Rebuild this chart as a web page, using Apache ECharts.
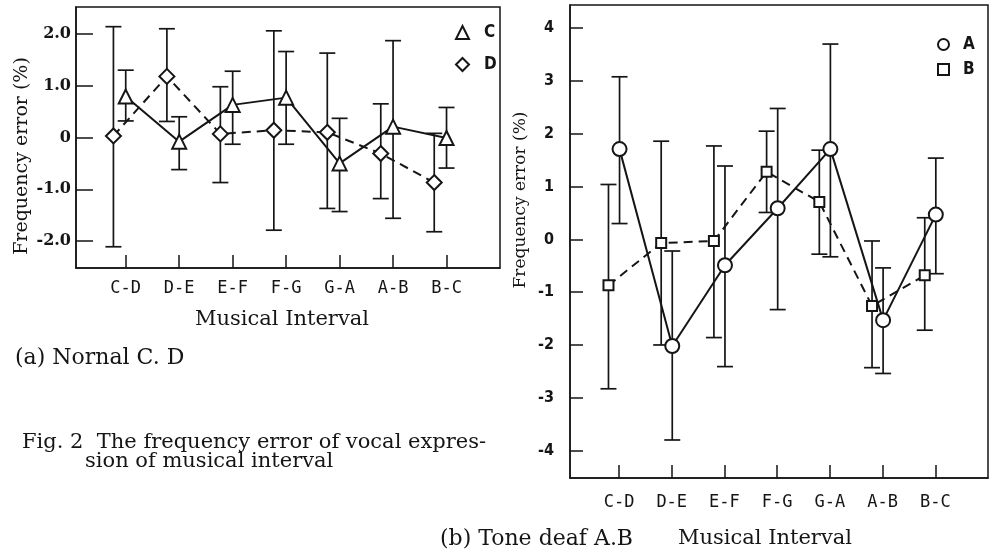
<!DOCTYPE html>
<html>
<head>
<meta charset="utf-8">
<script src="https://cdn.jsdelivr.net/npm/echarts@6/dist/echarts.min.js"></script>
<style>
  html, body { margin: 0; padding: 0; background: #fff; }
  #chart { width: 990px; height: 555px; }
</style>
</head>
<body>
<div id="chart"></div>
<script>
const intervals = ['C-D', 'D-E', 'E-F', 'F-G', 'G-A', 'A-B', 'B-C'];

// (a) normal subjects C and D
const meanC = [0.79, -0.08, 0.63, 0.77, -0.50, 0.21, -0.01];
const lowC = [0.32, -0.62, -0.13, -0.13, -1.43, -1.56, -0.59];
const highC = [1.30, 0.40, 1.28, 1.66, 0.37, 1.87, 0.58];
const meanD = [0.03, 1.18, 0.07, 0.14, 0.10, -0.31, -0.87];
const lowD = [-2.11, 0.31, -0.87, -1.79, -1.37, -1.18, -1.82];
const highD = [2.14, 2.10, 0.98, 2.06, 1.63, 0.65, 0.08];

// (b) tone deaf subjects A and B
const meanA = [1.71, -2.02, -0.49, 0.59, 1.71, -1.53, 0.47];
const lowA = [0.30, -3.80, -2.41, -1.33, -0.33, -2.54, -0.65];
const highA = [3.08, -0.22, 1.39, 2.48, 3.70, -0.54, 1.54];
const meanB = [-0.87, -0.07, -0.03, 1.28, 0.71, -1.26, -0.68];
const lowB = [-2.83, -2.00, -1.86, 0.51, -0.28, -2.43, -1.72];
const highB = [1.04, 1.86, 1.77, 2.05, 1.69, -0.03, 0.41];

const ticksA = [-2, -1, 0, 1, 2];
const ticksB = [-4, -3, -2, -1, 0, 1, 2, 3, 4];

const ink = '#151515';
const serif = '"DejaVu Serif", "Liberation Serif", serif';
const mono = '"DejaVu Sans Mono", "Liberation Mono", monospace';
const narrow = '"DejaVu Sans Condensed", "Liberation Sans Narrow", sans-serif';

// category i sits at x = i + 1, the second subject is drawn a bit to the left
const catPos = intervals.map((c, i) => i + 1);

function points(mean, shift) {
  return mean.map((v, i) => [catPos[i] + shift, v]);
}
function bars(low, high, shift) {
  return low.map((v, i) => [catPos[i] + shift, v, high[i]]);
}

function errorBars(axis, data) {
  return {
    type: 'custom',
    xAxisIndex: axis,
    yAxisIndex: axis,
    z: 1,
    silent: true,
    data: data,
    encode: { x: 0, y: [1, 2] },
    renderItem: function (params, api) {
      const x = api.value(0);
      const lo = api.coord([x, api.value(1)]);
      const hi = api.coord([x, api.value(2)]);
      const w = 8;
      const st = { stroke: ink, lineWidth: 1.7 };
      return {
        type: 'group',
        children: [
          { type: 'line', shape: { x1: lo[0], y1: lo[1], x2: hi[0], y2: hi[1] }, style: st },
          { type: 'line', shape: { x1: lo[0] - w, y1: lo[1], x2: lo[0] + w, y2: lo[1] }, style: st },
          { type: 'line', shape: { x1: hi[0] - w, y1: hi[1], x2: hi[0] + w, y2: hi[1] }, style: st }
        ]
      };
    }
  };
}

function meanLine(axis, name, data, symbol, size, dashed) {
  return {
    type: 'line',
    name: name,
    xAxisIndex: axis,
    yAxisIndex: axis,
    z: 3,
    data: data,
    symbol: symbol,
    symbolSize: size,
    showAllSymbol: true,
    lineStyle: { color: ink, width: 2, type: dashed ? [9, 6] : 'solid' },
    itemStyle: { color: '#fff', borderColor: ink, borderWidth: 2 },
    emphasis: { disabled: true }
  };
}

function xAxis(grid) {
  return {
    type: 'value',
    gridIndex: grid,
    min: 0.07,
    max: 8,
    axisLine: { show: true, onZero: false, lineStyle: { color: ink, width: 1.5 } },
    splitLine: { show: false },
    axisTick: { show: true, inside: true, length: 13, customValues: catPos,
      lineStyle: { color: ink, width: 1.5 } },
    axisLabel: {
      customValues: catPos,
      formatter: v => intervals[Math.round(v) - 1] || '',
      color: ink, fontFamily: mono, fontSize: 17,
      margin: grid === 0 ? 12 : 16
    }
  };
}

function yAxis(grid, ticks, min, max) {
  return {
    type: 'value',
    gridIndex: grid,
    min: min,
    max: max,
    axisLine: { show: true, onZero: false, lineStyle: { color: ink, width: 1.5 } },
    splitLine: { show: false },
    axisTick: { show: true, inside: true, length: grid === 0 ? 17 : 13, customValues: ticks,
      lineStyle: { color: ink, width: 1.5 } },
    axisLabel: {
      customValues: ticks,
      formatter: v => grid === 0 ? (v === 0 ? '0' : v.toFixed(1)) : String(v),
      color: ink,
      fontFamily: grid === 0 ? serif : narrow,
      fontWeight: 'bold',
      fontSize: 16,
      margin: grid === 0 ? 5 : 16
    }
  };
}

const chart = echarts.init(document.getElementById('chart'));

chart.setOption({
  backgroundColor: '#fff',
  animation: false,
  grid: [
    { left: 76, top: 7, width: 424, height: 261, show: true, borderColor: ink, borderWidth: 1.5 },
    { left: 570, top: 5, width: 418, height: 473, show: true, borderColor: ink, borderWidth: 1.5 }
  ],
  xAxis: [xAxis(0), xAxis(1)],
  yAxis: [yAxis(0, ticksA, -2.52, 2.52), yAxis(1, ticksB, -4.52, 4.44)],
  legend: [
    {
      orient: 'vertical', left: 450, top: 19, itemGap: 15,
      itemWidth: 13, itemHeight: 13, selectedMode: false,
      textStyle: { fontFamily: narrow, fontWeight: 'bold', fontSize: 17, color: ink, padding: [0, 0, 0, 10] },
      data: [{ name: 'C', icon: 'triangle' }, { name: 'D', icon: 'diamond' }]
    },
    {
      orient: 'vertical', left: 932, top: 31, itemGap: 8,
      itemWidth: 11, itemHeight: 11, selectedMode: false,
      textStyle: { fontFamily: narrow, fontWeight: 'bold', fontSize: 17, color: ink, padding: [0, 0, 0, 9] },
      data: [{ name: 'A', icon: 'circle' }, { name: 'B', icon: 'rect' }]
    }
  ],
  graphic: [
    { type: 'text', x: 22, y: 156, rotation: Math.PI / 2,
      style: { text: 'Frequency error (%)', font: '19px ' + serif, fill: ink, textAlign: 'center', textVerticalAlign: 'middle' } },
    { type: 'text', x: 521, y: 200, rotation: Math.PI / 2,
      style: { text: 'Frequency error (%)', font: '17px ' + serif, fill: ink, textAlign: 'center', textVerticalAlign: 'middle' } },
    { type: 'text', x: 282, y: 320,
      style: { text: 'Musical Interval', font: '21px ' + serif, fill: ink, textAlign: 'center', textVerticalAlign: 'middle' } },
    { type: 'text', x: 765, y: 539,
      style: { text: 'Musical Interval', font: '21px ' + serif, fill: ink, textAlign: 'center', textVerticalAlign: 'middle' } },
    { type: 'text', x: 15, y: 358,
      style: { text: '(a) Nornal C. D', font: '22px ' + serif, fill: ink, textVerticalAlign: 'middle' } },
    { type: 'text', x: 22, y: 443,
      style: { text: 'Fig. 2  The frequency error of vocal expres-', font: '21px ' + serif, fill: ink, textVerticalAlign: 'middle' } },
    { type: 'text', x: 85, y: 462,
      style: { text: 'sion of musical interval', font: '21px ' + serif, fill: ink, textVerticalAlign: 'middle' } },
    { type: 'text', x: 440, y: 539,
      style: { text: '(b) Tone deaf A.B', font: '22px ' + serif, fill: ink, textVerticalAlign: 'middle' } }
  ],
  series: [
    errorBars(0, bars(lowD, highD, -0.23)),
    errorBars(0, bars(lowC, highC, 0)),
    meanLine(0, 'D', points(meanD, -0.23), 'diamond', 15, true),
    meanLine(0, 'C', points(meanC, 0), 'triangle', 14, false),
    errorBars(1, bars(lowB, highB, -0.2)),
    errorBars(1, bars(lowA, highA, 0.01)),
    meanLine(1, 'B', points(meanB, -0.2), 'rect', 10, true),
    meanLine(1, 'A', points(meanA, 0.01), 'circle', 14, false)
  ]
});
</script>
</body>
</html>
